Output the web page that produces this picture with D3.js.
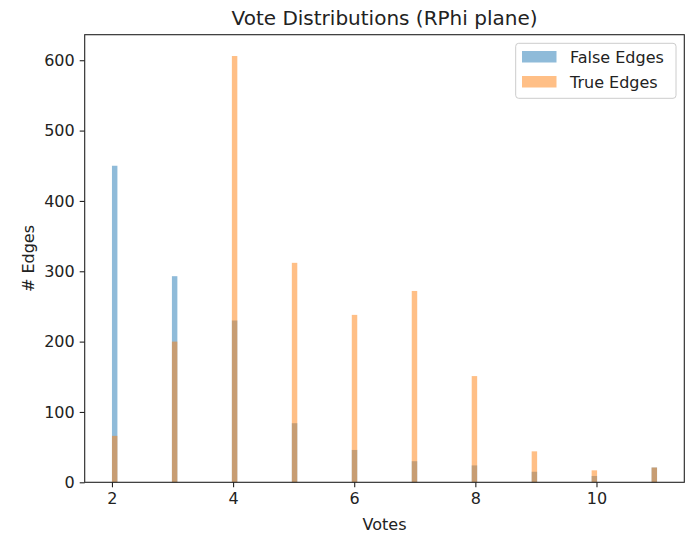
<!DOCTYPE html>
<html><head><meta charset="utf-8">
<script src="https://cdn.jsdelivr.net/npm/d3@7/dist/d3.min.js"></script>
<style>body{margin:0;background:#fff}svg{display:block;font-family:"DejaVu Sans",sans-serif}</style>
</head><body><svg id="c" width="692" height="541"></svg>
<script>
const votes = [2,3,4,5,6,7,8,9,10,11];
const falseEdges = [450,293,230,84,46,30,24,15,9,21];
const trueEdges  = [66,200,606,312,238,272,151,44,17,21];
const xTicks = [2,4,6,8,10];
const yTicks = [0,100,200,300,400,500,600];
const seriesNames = ["False Edges","True Edges"];
const colors = ["#1f77b4","#ff7f0e"];

const svg = d3.select("#c");
const L=84.7, R=684.3, T=34.7, B=482.3;
const binMin = d3.min(votes), binMax = d3.max(votes), nBins = 100;
const binW = (binMax-binMin)/nBins;
const pad = (binMax-binMin)*0.05;
const x = d3.scaleLinear().domain([binMin-pad, binMax+pad]).range([L,R]);
const ymax = Math.max(d3.max(falseEdges), d3.max(trueEdges))*1.05;
const y = d3.scaleLinear().domain([0, ymax]).range([B,T]);

function binStart(v){ let i=Math.floor((v-binMin)/binW+1e-9); if(i>=nBins) i=nBins-1; return binMin+i*binW; }

[falseEdges,trueEdges].forEach((vals,si)=>{
  svg.append("g").selectAll("rect").data(votes.map((v,i)=>({v,c:vals[i]}))).join("rect")
    .attr("x",d=>x(binStart(d.v)))
    .attr("width",d=>x(binStart(d.v)+binW)-x(binStart(d.v)))
    .attr("y",d=>y(d.c)).attr("height",d=>B-y(d.c))
    .attr("fill",colors[si]).attr("fill-opacity",0.5);
});

const xa = svg.append("g").attr("transform",`translate(0,${B})`)
  .call(d3.axisBottom(x).tickValues(xTicks).tickSize(5).tickPadding(4).tickFormat(d3.format("d")));
const ya = svg.append("g").attr("transform",`translate(${L},0)`)
  .call(d3.axisLeft(y).tickValues(yTicks).tickSize(5).tickPadding(5).tickFormat(d3.format("d")));
[xa,ya].forEach(a=>{a.select(".domain").remove();a.selectAll("text").attr("font-size",16).attr("font-family","DejaVu Sans").attr("fill","#222");a.selectAll("line").attr("stroke","#222").attr("stroke-width",1.1);});
xa.selectAll("text").attr("dy","0.8em");

svg.append("rect").attr("x",L).attr("y",T).attr("width",R-L).attr("height",B-T)
  .attr("fill","none").attr("stroke","#222").attr("stroke-width",1.1);

svg.append("text").attr("x",(L+R)/2).attr("y",25).attr("text-anchor","middle")
  .attr("font-size",20).attr("fill","#222").text("Vote Distributions (RPhi plane)");
svg.append("text").attr("x",(L+R)/2).attr("y",530).attr("text-anchor","middle")
  .attr("font-size",16).attr("fill","#222").text("Votes");
svg.append("text").attr("transform",`translate(34,${(T+B)/2}) rotate(-90)`).attr("text-anchor","middle")
  .attr("font-size",16).attr("fill","#222").text("# Edges");

const lg = svg.append("g");
lg.append("rect").attr("x",515.7).attr("y",43.3).attr("width",160.3).attr("height",55).attr("rx",3)
  .attr("fill","#fff").attr("fill-opacity",0.8).attr("stroke","#ccc");
seriesNames.forEach((n,i)=>{
  lg.append("rect").attr("x",522).attr("y",51+i*25).attr("width",34.5).attr("height",11.5)
    .attr("fill",colors[i]).attr("fill-opacity",0.5);
  lg.append("text").attr("x",570).attr("y",63+i*25).attr("font-size",16).attr("fill","#222").text(n);
});
</script></body></html>
